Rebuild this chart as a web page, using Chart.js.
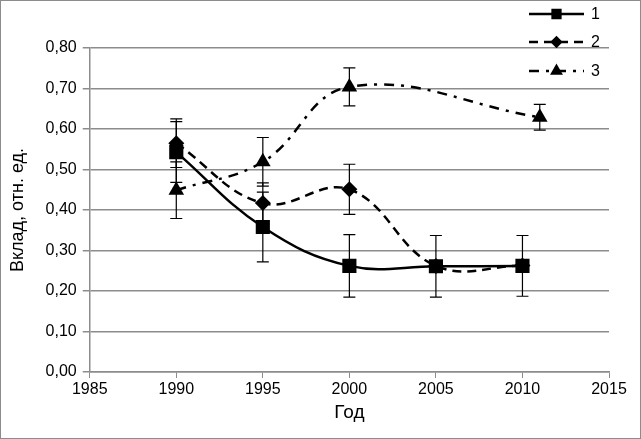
<!DOCTYPE html>
<html>
<head>
<meta charset="utf-8">
<script src="https://cdn.jsdelivr.net/npm/chart.js@4/dist/chart.umd.min.js"></script>
<style>
  body { margin: 0; background: #fff; }
  #wrap { width: 641px; height: 439px; box-sizing: border-box; border: 1px solid #8c8c8c; position: relative; }
</style>
</head>
<body>
<div id="wrap"><canvas id="c"></canvas></div>
<script>
// values
const years1 = [1990, 1995, 2000, 2005, 2010];
const vals1  = [0.543, 0.358, 0.262, 0.261, 0.262];
const err1   = [0.075, 0.086, 0.077, 0.076, 0.075];

const years2 = [1990, 1995, 2000, 2005, 2010];
const vals2  = [0.565, 0.417, 0.451, 0.262, 0.263];
const err2   = [0.060, 0.050, 0.062, 0, 0];

const years3 = [1990, 1995, 2000, 2011];
const vals3  = [0.449, 0.519, 0.704, 0.629];
const err3   = [0.070, 0.060, 0.047, 0.032];

const seriesNames = ['1', '2', '3'];
const xTicks = [1985, 1990, 1995, 2000, 2005, 2010, 2015];
const yTicks = [0, 0.1, 0.2, 0.3, 0.4, 0.5, 0.6, 0.7, 0.8];

const FONT = '"Liberation Sans", Arial, sans-serif';
const GRID = '#8c8c8c';

const pts = (xs, ys) => xs.map((x, i) => ({ x: x, y: ys[i] }));
const errs = [err1, err2, err3];

// vertical error bars with caps, behind the markers
const errorBars = {
  id: 'errorBars',
  beforeDatasetsDraw(chart) {
    const ctx = chart.ctx;
    const xs = chart.scales.x, ys = chart.scales.y;
    ctx.save();
    ctx.strokeStyle = '#000';
    ctx.lineWidth = 1.2;
    chart.data.datasets.forEach((ds, d) => {
      ds.data.forEach((p, i) => {
        const e = errs[d][i];
        if (!e) return;
        const px = xs.getPixelForValue(p.x);
        const top = ys.getPixelForValue(p.y + e);
        const bot = ys.getPixelForValue(p.y - e);
        ctx.beginPath();
        ctx.moveTo(px, top); ctx.lineTo(px, bot);
        ctx.moveTo(px - 6, top); ctx.lineTo(px + 6, top);
        ctx.moveTo(px - 6, bot); ctx.lineTo(px + 6, bot);
        ctx.stroke();
      });
    });
    ctx.restore();
  }
};

// legend in the top right corner: line sample with marker in the middle
const cornerLegend = {
  id: 'cornerLegend',
  afterDraw(chart) {
    const ctx = chart.ctx;
    const x0 = 528, x1 = 583, tx = 590;
    const rows = [13, 41, 70];
    ctx.save();
    chart.data.datasets.forEach((ds, i) => {
      const y = rows[i];
      ctx.strokeStyle = '#000';
      ctx.lineWidth = ds.borderWidth;
      ctx.setLineDash(ds.borderDash || []);
      ctx.beginPath();
      ctx.moveTo(x0, y); ctx.lineTo(x1, y);
      ctx.stroke();
      ctx.setLineDash([]);
      Chart.helpers.drawPoint(ctx, {
        pointStyle: ds.pointStyle, radius: ds.pointRadius * 0.55, rotation: 0,
        borderWidth: 1
      }, (x0 + x1) / 2, y);
      ctx.fillStyle = '#000';
      ctx.font = '16px ' + FONT;
      ctx.textBaseline = 'middle';
      ctx.fillText(seriesNames[i], tx, y + 1);
    });
    ctx.restore();
  }
};

new Chart(document.getElementById('c'), {
  type: 'scatter',
  data: {
    datasets: [
      { label: seriesNames[0], data: pts(years1, vals1), showLine: true, tension: 0.4,
        borderColor: '#000', backgroundColor: '#000', borderWidth: 2.5,
        pointStyle: 'rect', pointRadius: 10, pointBorderWidth: 0 },
      { label: seriesNames[1], data: pts(years2, vals2), showLine: true, tension: 0.4,
        borderColor: '#000', backgroundColor: '#000', borderWidth: 2.5, borderDash: [9, 6],
        pointStyle: 'rectRot', pointRadius: 8, pointBorderWidth: 0 },
      { label: seriesNames[2], data: pts(years3, vals3), showLine: true, tension: 0.4,
        borderColor: '#000', backgroundColor: '#000', borderWidth: 2.5, borderDash: [10, 7, 3, 7],
        pointStyle: 'triangle', pointRadius: 9, pointBorderWidth: 0 }
    ]
  },
  options: {
    responsive: true,
    maintainAspectRatio: false,
    animation: false,
    layout: { padding: { top: 47, right: 31, left: 6, bottom: 14 } },
    plugins: { legend: { display: false }, tooltip: { enabled: false } },
    scales: {
      x: {
        type: 'linear', min: 1985, max: 2015,
        afterBuildTicks: s => { s.ticks = xTicks.map(v => ({ value: v })); },
        ticks: { color: '#000', font: { family: FONT, size: 16 }, padding: 2,
                 maxRotation: 0, callback: v => String(v) },
        grid: { drawOnChartArea: false, color: GRID, tickLength: 6, lineWidth: 1 },
        border: { color: GRID, width: 1.5 },
        title: { display: true, text: 'Год', color: '#000',
                 font: { family: FONT, size: 19 }, padding: { top: 0, bottom: 0 } }
      },
      y: {
        min: 0, max: 0.8,
        afterBuildTicks: s => { s.ticks = yTicks.map(v => ({ value: v })); },
        ticks: { color: '#000', font: { family: FONT, size: 16 }, padding: 6,
                 callback: v => v.toFixed(2).replace('.', ',') },
        grid: { color: GRID, lineWidth: 1.5, tickLength: 7 },
        border: { color: GRID, width: 1.5 },
        title: { display: true, text: 'Вклад, отн. ед.', color: '#000',
                 font: { family: FONT, size: 18 }, padding: { top: 0, bottom: 11 } }
      }
    }
  },
  plugins: [errorBars, cornerLegend]
});
</script>
</body>
</html>
